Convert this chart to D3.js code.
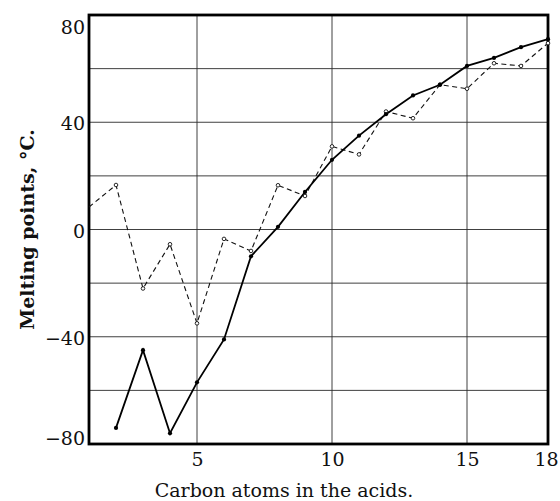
<!DOCTYPE html>
<html>
<head>
<meta charset="utf-8">
<script src="https://cdn.jsdelivr.net/npm/d3@7"></script>
<style>
  html, body { margin: 0; padding: 0; background: #fff; }
  svg text { font-family: "DejaVu Serif", "Liberation Serif", serif; fill: #111; }
</style>
</head>
<body>
<div id="chart"></div>
<script>
// Carbon atoms (x) and melting points, °C (y)
const carbonAtoms = [1, 2, 3, 4, 5, 6, 7, 8, 9, 10, 11, 12, 13, 14, 15, 16, 17, 18];
// dashed curve: the acids
const acidMelting = [8.4, 16.6, -22, -5.5, -35, -3.5, -8, 16.5, 12.5, 31, 28, 44, 41.5, 54, 52.5, 62, 61, 69.5];
// solid curve (starts at 2 carbons)
const solidAtoms = [2, 3, 4, 5, 6, 7, 8, 9, 10, 11, 12, 13, 14, 15, 16, 17, 18];
const solidMelting = [-74, -45, -76, -57, -41, -10, 1, 14, 26, 35, 43, 50, 54, 61, 64, 68, 71];

const yTicks = [80, 40, 0, -40, -80];
const xTicks = [5, 10, 15, 18];
const yGrid = [-60, -40, -20, 0, 20, 40, 60];
const xGrid = [5, 10, 15];

const width = 560, height = 501;
const margin = {top: 15, right: 12, bottom: 57, left: 89};

const svg = d3.select('#chart').append('svg')
    .attr('width', width)
    .attr('height', height);

const x = d3.scaleLinear().domain([1, 18]).range([margin.left, width - margin.right]);
const y = d3.scaleLinear().domain([-80, 80]).range([height - margin.bottom, margin.top]);

// grid
const grid = svg.append('g').attr('stroke', '#2a2a2a').attr('stroke-width', 0.9);
grid.selectAll('line.h').data(yGrid).join('line')
    .attr('x1', x(1)).attr('x2', x(18))
    .attr('y1', d => y(d)).attr('y2', d => y(d));
grid.selectAll('line.v').data(xGrid).join('line')
    .attr('x1', d => x(d)).attr('x2', d => x(d))
    .attr('y1', y(80)).attr('y2', y(-80));

// frame
svg.append('rect')
    .attr('x', x(1)).attr('y', y(80))
    .attr('width', x(18) - x(1)).attr('height', y(-80) - y(80))
    .attr('fill', 'none').attr('stroke', '#000').attr('stroke-width', 2.8);

// axes labels via d3 axes (domain & ticks hidden)
const yAxis = svg.append('g')
    .attr('transform', `translate(${x(1)},0)`)
    .call(d3.axisLeft(y).tickValues(yTicks).tickSize(0).tickPadding(4)
        .tickFormat(d => d < 0 ? '\u2212' + Math.abs(d) : d));
yAxis.select('.domain').remove();
yAxis.selectAll('text')
    .attr('font-size', 19)
    .attr('font-family', '"DejaVu Serif", serif')
    .attr('dy', d => d === 80 ? '0.95em' : d === -80 ? '0.05em' : '0.4em');

const xAxis = svg.append('g')
    .attr('transform', `translate(0,${y(-80)})`)
    .call(d3.axisBottom(x).tickValues(xTicks).tickSize(0).tickPadding(9));
xAxis.select('.domain').remove();
xAxis.selectAll('text')
    .attr('font-size', 19)
    .attr('font-family', '"DejaVu Serif", serif')
    .attr('dx', d => d === 18 ? '-0.1em' : 0);

// lines
const acidPts = carbonAtoms.map((c, i) => [c, acidMelting[i]]);
const solidPts = solidAtoms.map((c, i) => [c, solidMelting[i]]);
const line = d3.line().x(d => x(d[0])).y(d => y(d[1]));

svg.append('path')
    .datum(acidPts)
    .attr('d', line)
    .attr('fill', 'none')
    .attr('stroke', '#111')
    .attr('stroke-width', 1.1)
    .attr('stroke-dasharray', '5,3.5');

svg.append('path')
    .datum(solidPts)
    .attr('d', line)
    .attr('fill', 'none')
    .attr('stroke', '#000')
    .attr('stroke-width', 1.8);

svg.append('g').selectAll('circle').data(acidPts.slice(1)).join('circle')
    .attr('cx', d => x(d[0])).attr('cy', d => y(d[1]))
    .attr('r', 1.8).attr('fill', '#fff').attr('stroke', '#111').attr('stroke-width', 0.9);

svg.append('g').selectAll('circle').data(solidPts).join('circle')
    .attr('cx', d => x(d[0])).attr('cy', d => y(d[1]))
    .attr('r', 2.1).attr('fill', '#000');

// axis titles
svg.append('text')
    .attr('x', 284).attr('y', 497)
    .attr('text-anchor', 'middle')
    .attr('font-size', 19)
    .text('Carbon atoms in the acids.');

svg.append('text')
    .attr('transform', `translate(34,${(y(80) + y(-80)) / 2}) rotate(-90)`)
    .attr('text-anchor', 'middle')
    .attr('font-size', 19)
    .attr('font-weight', 'bold')
    .text('Melting points, \u00B0C.');
</script>
</body>
</html>
